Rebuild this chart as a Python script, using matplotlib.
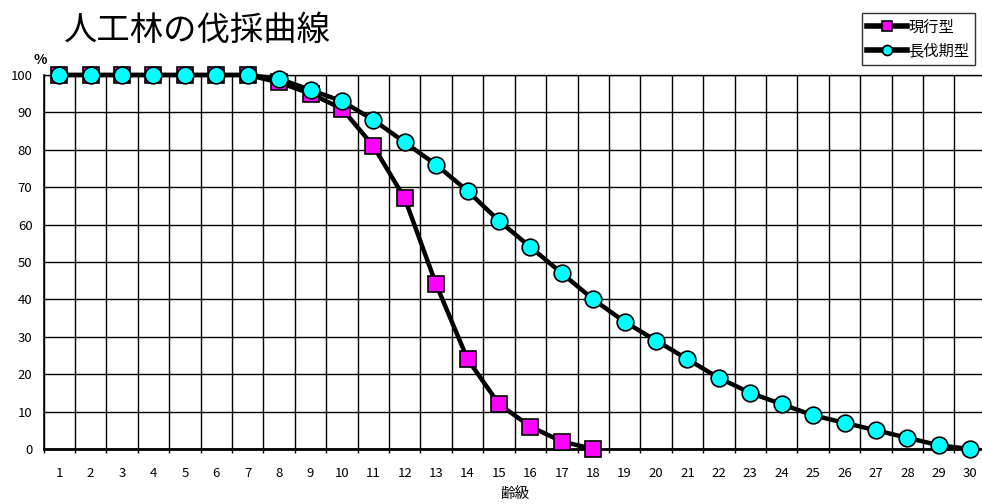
import matplotlib
matplotlib.use("Agg")
import matplotlib.pyplot as plt
from matplotlib.ticker import MultipleLocator, FixedLocator

plt.rcParams['font.family'] = ['Noto Sans CJK JP', 'DejaVu Sans']

age_classes = list(range(1, 31))
current_type = [100, 100, 100, 100, 100, 100, 100, 98, 95, 91, 81, 67, 44, 24, 12, 6, 2, 0]
long_type = [100, 100, 100, 100, 100, 100, 100, 99, 96, 93, 88, 82, 76, 69, 61, 54, 47, 40,
             34, 29, 24, 19, 15, 12, 9, 7, 5, 3, 1, 0]
series_names = ["現行型", "長伐期型"]
title = "人工林の伐採曲線"

fig = plt.figure(figsize=(9.82, 5.04), dpi=100)
ax = fig.add_axes([43.5 / 982, 1 - 449 / 504, 942.4 / 982, 374 / 504])

ax.plot(age_classes[:len(current_type)], current_type, color='black', lw=3.2,
        marker='s', markersize=11.5, markerfacecolor='#FF00FF', markeredgecolor='black',
        markeredgewidth=1.2, label=series_names[0], zorder=3, clip_on=False)
ax.plot(age_classes, long_type, color='black', lw=3.2,
        marker='o', markersize=12, markerfacecolor='#00FFFF', markeredgecolor='black',
        markeredgewidth=1.2, label=series_names[1], zorder=4, clip_on=False)

ax.set_xlim(0.5, 30.5)
ax.set_ylim(0, 100)
ax.set_xticks(age_classes)
ax.set_xticklabels([str(a) for a in age_classes])
ax.xaxis.set_minor_locator(FixedLocator([a + 0.5 for a in range(0, 31)]))
ax.yaxis.set_major_locator(MultipleLocator(10))
ax.tick_params(axis='x', which='major', length=0, labelsize=9.5, pad=13)
ax.tick_params(axis='x', which='minor', length=3, width=1)
ax.tick_params(axis='y', which='major', length=0, labelsize=9.5, pad=8)
ax.grid(True, axis='x', which='minor', color='black', lw=1)
ax.grid(True, axis='y', which='major', color='black', lw=1)
ax.set_axisbelow(True)
ax.spines['right'].set_visible(False)
ax.spines['top'].set_linewidth(1)
ax.spines['left'].set_linewidth(1.2)
ax.spines['bottom'].set_linewidth(2)

ax.set_xlabel("齢級", fontsize=10.5, labelpad=5)
fig.text(40 / 982, 1 - 60 / 504, "%", fontsize=10, ha='center', va='center', fontweight='bold')
fig.text(64 / 982, 1 - 30 / 504, title, fontsize=24, ha='left', va='center')

leg = fig.legend(loc='upper right', bbox_to_anchor=(975 / 982, 1 - 13 / 504),
                 fontsize=11, frameon=True, fancybox=False, edgecolor='black',
                 handlelength=2.6, handletextpad=0.1, borderpad=0.35, labelspacing=0.45,
                 borderaxespad=0, markerscale=0.6)
leg.get_frame().set_linewidth(1)
for line in leg.get_lines():
    line.set_linewidth(4)

fig.savefig("out.png", dpi=100)
